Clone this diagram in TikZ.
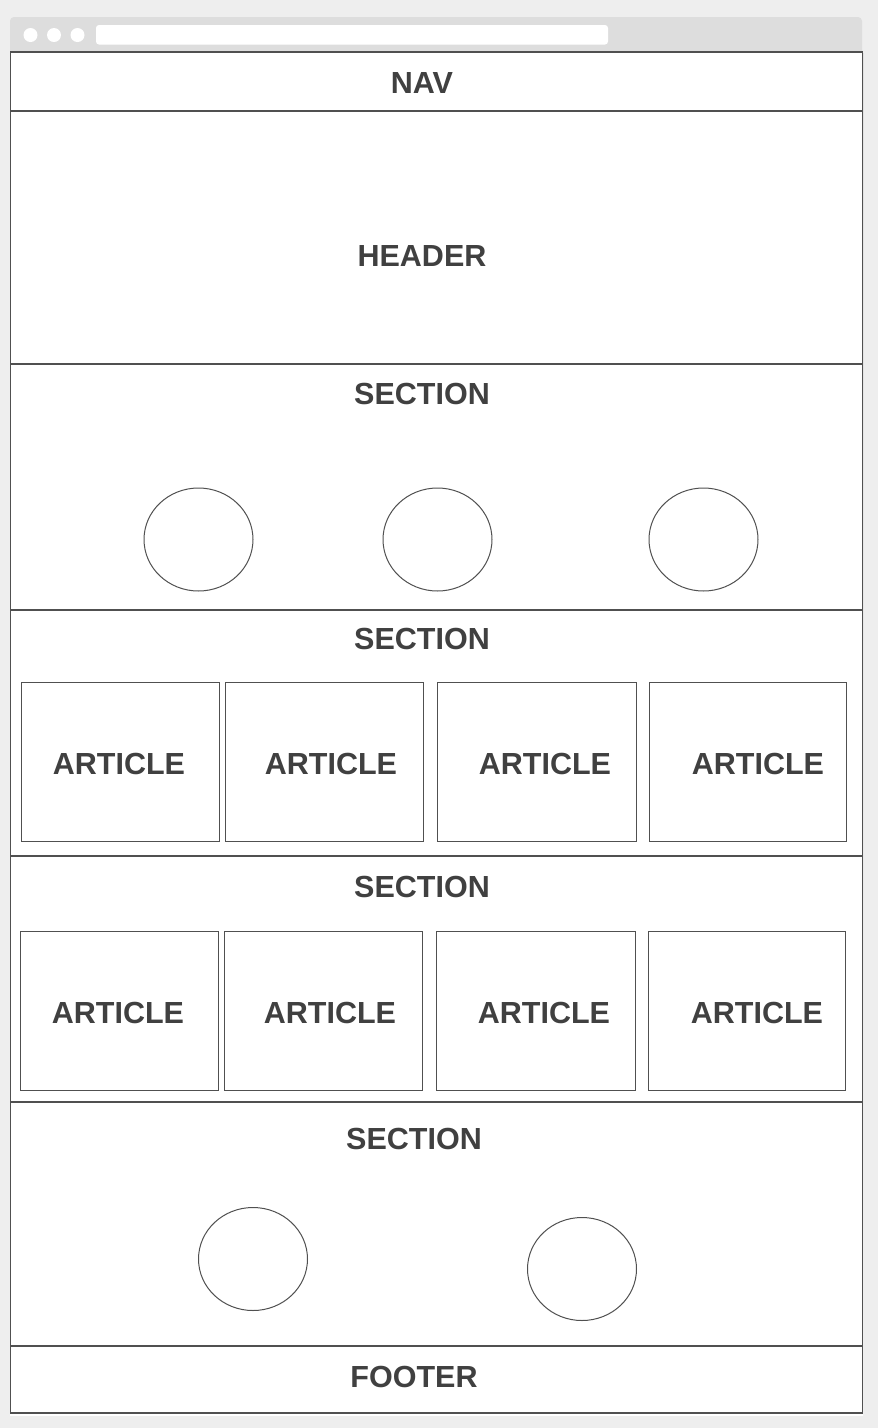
\documentclass[tikz,border=0pt]{standalone}
\usepackage{fontspec}
\setmainfont{Liberation Sans}
\usetikzlibrary{shapes.geometric}
\definecolor{pagebg}{HTML}{EEEEEE}
\definecolor{chrome}{HTML}{DDDDDD}
\definecolor{frameline}{HTML}{505050}
\definecolor{labelink}{HTML}{404040}
\definecolor{shade}{HTML}{CCCCCC}
\tikzset{
  band/.style={draw=frameline, line width=1.2pt, fill=white, inner sep=0pt, minimum width=852pt},
  artbox/.style={draw=frameline, line width=1pt, fill=white, inner sep=0pt, minimum width=198pt, minimum height=159pt},
  dot/.style={ellipse, draw=frameline, line width=1pt, fill=white, inner sep=0pt, minimum width=109pt, minimum height=103pt},
  lbl/.style={font=\bfseries\fontsize{30.5}{31}\selectfont, text=labelink, inner sep=0pt},
  light/.style={circle, fill=white, inner sep=0pt, minimum size=14pt}
}
\begin{document}
\begin{tikzpicture}[x=1pt, y=-1pt]
\useasboundingbox (0,0) rectangle (878,1428);
\fill[pagebg] (0,0) rectangle (878,1428);

% window chrome
\fill[shade] (10,53) rectangle (863,1415.5);
\fill[chrome, rounded corners=4pt] (10,17) rectangle (862,60);
\node[light] (d1) at (30.5,35) {};
\node[light] (d2) at (54,35) {};
\node[light] (d3) at (77.5,35) {};
\fill[white, rounded corners=3pt] (96,25) rectangle (608,44.5);

% page bands
\node[band, minimum height=59pt]  (nav)    at (436.5,81.5) {};
\node[band, minimum height=253pt] (header) at (436.5,237.5) {};
\node[band, minimum height=246pt] (sec1)   at (436.5,487) {};
\node[band, minimum height=246pt] (sec2)   at (436.5,733) {};
\node[band, minimum height=246pt] (sec3)   at (436.5,979) {};
\node[band, minimum height=244pt] (sec4)   at (436.5,1224) {};
\node[band, minimum height=67pt]  (footer) at (436.5,1379.5) {};

\node[lbl] (navt)    at (422,83)   {NAV};
\node[lbl] (headt)   at (422,256)  {HEADER};
\node[lbl] (sec1t)   at (422,394)  {SECTION};
\node[lbl] (sec2t)   at (422,639)  {SECTION};
\node[lbl] (sec3t)   at (422,887)  {SECTION};
\node[lbl] (sec4t)   at (414,1139) {SECTION};
\node[lbl] (foott)   at (414,1377) {FOOTER};

% circles
\node[dot] (c1) at (198.5,539.5) {};
\node[dot] (c2) at (437.5,539.5) {};
\node[dot] (c3) at (703.5,539.5) {};
\node[dot] (c4) at (253,1259) {};
\node[dot] (c5) at (582,1269) {};

% article row one
\node[artbox] (a1) at (120,761.5) {};
\node[artbox] (a2) at (324,761.5) {};
\node[artbox, minimum width=199pt] (a3) at (536.5,761.5) {};
\node[artbox, minimum width=197pt] (a4) at (747.5,761.5) {};
\node[lbl] (a1t) at (119,764) {ARTICLE};
\node[lbl] (a2t) at (331,764) {ARTICLE};
\node[lbl] (a3t) at (545,764) {ARTICLE};
\node[lbl] (a4t) at (758,764) {ARTICLE};

% article row two
\node[artbox] (b1) at (119,1010.5) {};
\node[artbox] (b2) at (323,1010.5) {};
\node[artbox, minimum width=199pt] (b3) at (535.5,1010.5) {};
\node[artbox, minimum width=197pt] (b4) at (746.5,1010.5) {};
\node[lbl] (b1t) at (118,1013) {ARTICLE};
\node[lbl] (b2t) at (330,1013) {ARTICLE};
\node[lbl] (b3t) at (544,1013) {ARTICLE};
\node[lbl] (b4t) at (757,1013) {ARTICLE};
\end{tikzpicture}
\end{document}
